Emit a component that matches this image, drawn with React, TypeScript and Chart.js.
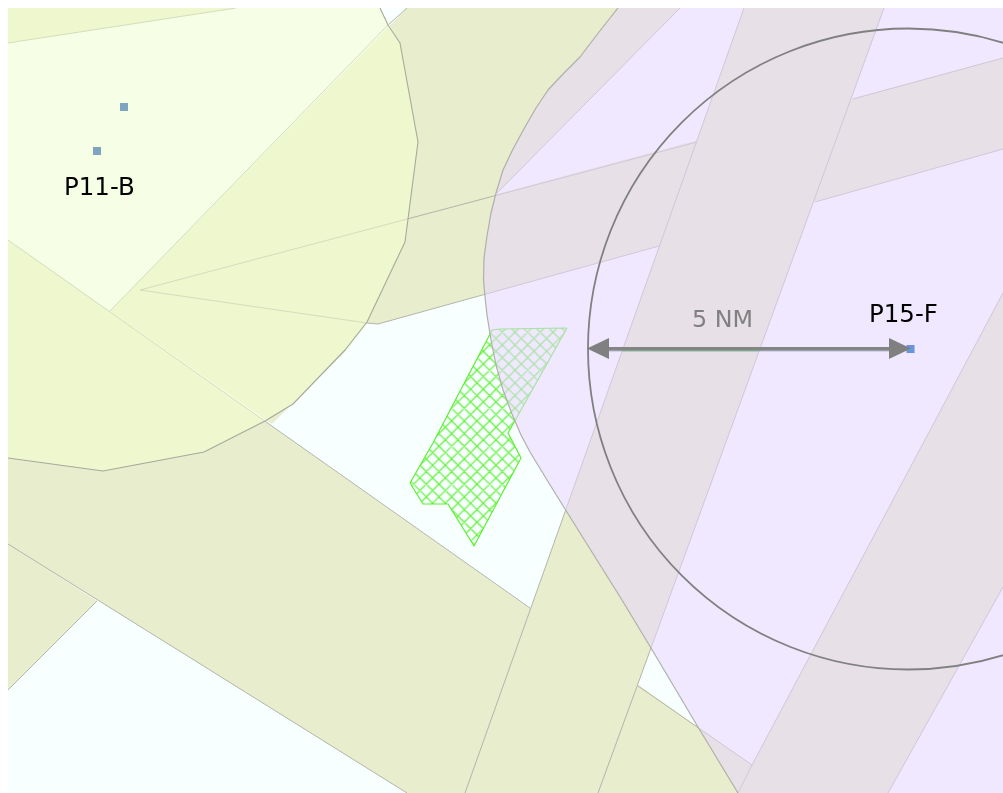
import React, { useEffect, useRef } from "react";
import { Chart, registerables } from "chart.js";

Chart.register(...registerables);

type P = [number, number];

// Airspace outlines (map units equal reference pixels)
const topLeftBand: P[] = [[8, 8], [236, 8], [8, 43]];
const diagonalBand: P[] = [[407, 8], [680, 8], [450, 240], [368, 322], [345, 352], [296, 400], [272, 424], [110, 311]];
const wedgeBand: P[] = [[140, 290], [1003, 58], [1003, 149], [378, 324], [367, 323]];
const southEastBand: P[] = [[8, 240], [752, 765], [738, 793], [407, 793], [8, 544]];
const cornerBand: P[] = [[8, 544], [97, 601], [8, 690]];
const steepBand: P[] = [[744, 8], [884, 8], [651, 648], [598, 793], [465, 793], [565, 512]];
const rightBand: P[] = [[1003, 293], [752, 765], [738, 793], [888, 793], [1003, 587]];

const yellowZone: P[] = [[380, 8], [400, 43], [418, 142], [405, 242], [367, 322], [345, 350], [293, 404], [265, 421], [204, 452], [103, 471], [8, 458], [8, 8]];
const yellowArc: P[] = [[380, 8], [388, 25], [400, 43], [418, 142], [405, 242], [367, 322], [345, 350], [293, 404], [265, 421], [204, 452], [103, 471], [8, 458]];
const lavenderArc: P[] = [[618, 8], [599, 32], [580, 57], [563, 74], [548, 90], [536, 108], [525, 127], [513, 149], [503, 170], [496, 193], [491, 213], [487, 236], [484, 258], [483.5, 280], [485, 297], [487, 315], [491, 340], [496, 365], [503, 390], [512, 414], [521, 435], [530, 452], [547, 480], [565, 509], [622, 600], [651, 648], [698, 727], [738, 793]];
const lavenderCorners: P[] = [[1003, 793], [1003, 8]];

const hatchArea: P[] = [[567, 328], [500, 329], [492, 330], [488, 338], [458, 395], [433, 443], [410, 483], [423, 504], [448, 504], [474, 546], [521, 458], [508, 433], [567, 328]];

// Band edges that stay visible
const bandEdges: P[][] = [
  [[8, 43], [236, 8]],
  [[407, 8], [388, 25], [110, 311]],
  [[680, 8], [497, 193]],
  [[140, 290], [697, 142]],
  [[853, 99], [1003, 58]],
  [[140, 290], [367, 323], [378, 324], [659, 246]],
  [[815, 202], [1003, 149]],
  [[8, 240], [530, 608]],
  [[638, 686], [752, 765]],
  [[8, 544], [407, 793]],
  [[97, 601], [8, 690]],
  [[744, 8], [565, 512], [465, 793]],
  [[884, 8], [651, 648], [598, 793]],
  [[1003, 293], [752, 765], [738, 793]],
  [[1003, 587], [888, 793]],
];

// Range ring and measure line
const ringCentre: P[] = [[908.5, 349]];
const measureLine: P[] = [[592, 348.7], [905, 348.7]];
const measureShadow: P[] = [[605, 350.7], [895, 350.7]];
const measureGreen: P[] = [[622, 350.6], [760, 350.6]];
const arrowLeft: P[] = [[598, 348.5]];
const arrowRight: P[] = [[900, 348.5]];
const tipGreen: P[] = [[908, 350], [913, 349]];

// Fixes
const northFixes: P[] = [[124, 107], [97, 151]];
const eastFix: P[] = [[910.5, 349]];

// Labels
const labelTexts = ["P11-B", "P15-F", "5 NM"];
const labelX = [64, 869, 692];
const labelY = [195, 322, 327];
const labelSizes = [24.5, 24.5, 23.8];
const labelColours = ["#000000", "#000000", "#808080"];

const toPts = (a: P[]) => a.map(([x, y]) => ({ x, y }));

const area = (data: P[], color: any) => ({
  type: "scatter" as const,
  data: toPts(data),
  showLine: true,
  fill: "shape",
  backgroundColor: color,
  borderColor: "transparent",
  borderWidth: 0,
  pointRadius: 0,
  tension: 0,
});

const stroke = (data: P[], color: string, width: number) => ({
  type: "scatter" as const,
  data: toPts(data),
  showLine: true,
  fill: false,
  borderColor: color,
  borderWidth: width,
  pointRadius: 0,
  tension: 0,
  borderCapStyle: "butt",
  borderJoinStyle: "round",
});

const marks = (data: P[], color: string, radius: number) => ({
  type: "scatter" as const,
  data: toPts(data),
  showLine: false,
  pointStyle: "rect",
  pointRadius: radius,
  pointBackgroundColor: color,
  pointBorderWidth: 0,
});

function makeHatch(ctx: CanvasRenderingContext2D) {
  const s = 38;
  const period = s / 3;
  const t = document.createElement("canvas");
  t.width = s;
  t.height = s;
  const c = t.getContext("2d")!;
  c.strokeStyle = "#5cf032";
  c.lineWidth = 1.15;
  c.beginPath();
  for (let k = -4; k <= 4; k++) {
    c.moveTo(k * period, 0);
    c.lineTo(k * period + s, s);
    c.moveTo(k * period, s);
    c.lineTo(k * period + s, 0);
  }
  c.stroke();
  const pattern = ctx.createPattern(t, "repeat")!;
  pattern.setTransform(new DOMMatrix().translate(6.6, 1.2));
  return pattern;
}

function makeArrow() {
  const t = document.createElement("canvas");
  t.width = 22;
  t.height = 21;
  const c = t.getContext("2d")!;
  c.fillStyle = "#808080";
  c.beginPath();
  c.moveTo(0, 0);
  c.lineTo(22, 10.5);
  c.lineTo(0, 21);
  c.closePath();
  c.fill();
  return t;
}

const labelPlugin = {
  id: "mapLabels",
  afterDatasetsDraw(chart: any) {
    const { ctx, scales } = chart;
    ctx.save();
    ctx.textBaseline = "alphabetic";
    ctx.textAlign = "left";
    labelTexts.forEach((text, i) => {
      ctx.font = `${labelSizes[i]}px "DejaVu Sans"`;
      ctx.fillStyle = labelColours[i];
      ctx.fillText(text, scales.x.getPixelForValue(labelX[i]), scales.y.getPixelForValue(labelY[i]));
    });
    ctx.restore();
  },
};

export default function App() {
  const ref = useRef<HTMLCanvasElement>(null);

  useEffect(() => {
    const canvas = ref.current!;
    const ctx = canvas.getContext("2d")!;
    const arrow = makeArrow();
    const edge = "#b3b5aa";
    const olive = "#e7edcd";
    const layers: any[] = [
      area([[8, 8], [1003, 8], [1003, 793], [8, 793]], "#f8ffff"),
      area(topLeftBand, olive),
      area(diagonalBand, olive),
      area(wedgeBand, olive),
      area(southEastBand, olive),
      area(cornerBand, olive),
      area(steepBand, olive),
      area(rightBand, olive),
      ...bandEdges.map((e) => stroke(e, edge, 1)),
      area(hatchArea, makeHatch(ctx)),
      stroke(hatchArea, "#5cf032", 1.2),
      area(yellowZone, "rgba(244,255,206,0.53)"),
      area([...lavenderArc, ...lavenderCorners], "rgba(231,213,254,0.55)"),
      stroke(yellowArc, "#a8a99c", 1.1),
      stroke(lavenderArc, "#b0b0aa", 1.2),
      {
        type: "scatter",
        data: toPts(ringCentre),
        showLine: false,
        pointStyle: "circle",
        pointRadius: 320.5,
        pointBackgroundColor: "transparent",
        pointBorderColor: "#808080",
        pointBorderWidth: 1.8,
      },
      stroke(measureShadow, "#b4bad4", 1.5),
      stroke(measureGreen, "#7fc88f", 1.5),
      marks(eastFix, "#6f8fe0", 5.7),
      stroke(tipGreen, "#30c8b0", 1.2),
      stroke(measureLine, "#848484", 3.4),
      { type: "scatter", data: toPts(arrowLeft), showLine: false, pointStyle: arrow, pointRadius: 11, pointRotation: 180 },
      { type: "scatter", data: toPts(arrowRight), showLine: false, pointStyle: arrow, pointRadius: 11, pointRotation: 0 },
      marks(northFixes, "#7ea4bf", 5.7),
    ];

    const chart = new Chart(canvas, {
      type: "scatter",
      data: { datasets: layers.slice().reverse() },
      options: {
        animation: false,
        responsive: false,
        devicePixelRatio: 1,
        layout: { padding: 0, autoPadding: false },
        events: [],
        plugins: { legend: { display: false }, tooltip: { enabled: false }, title: { display: false } },
        scales: {
          x: { type: "linear", min: 8, max: 1003, display: false },
          y: { type: "linear", min: 8, max: 793, reverse: true, display: false },
        },
      },
      plugins: [labelPlugin],
    } as any);
    return () => chart.destroy();
  }, []);

  return (
    <div style={{ position: "fixed", left: 8, top: 8, width: 995, height: 785, overflow: "hidden" }}>
      <canvas ref={ref} width={995} height={785} style={{ display: "block", width: 995, height: 785 }} />
    </div>
  );
}
